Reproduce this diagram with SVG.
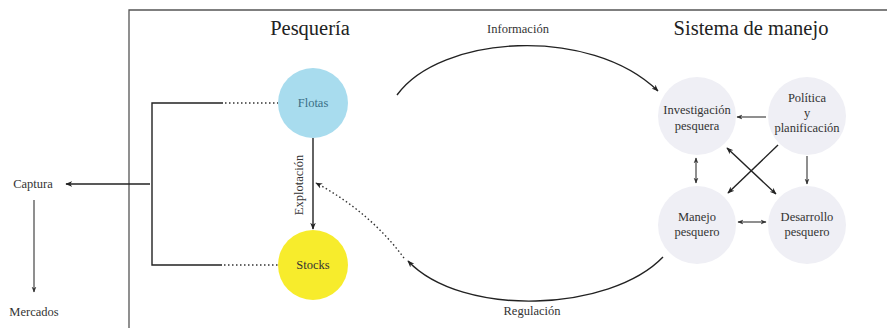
<svg xmlns="http://www.w3.org/2000/svg" width="887" height="328" viewBox="0 0 887 328">
<defs>
<marker id="ah" viewBox="0 0 10 10" refX="9" refY="5" markerWidth="7" markerHeight="7" orient="auto-start-reverse" markerUnits="userSpaceOnUse">
<path d="M0,1 L10,5 L0,9 L3,5 z" fill="#222"/>
</marker>
<marker id="ahs" viewBox="0 0 10 10" refX="9" refY="5" markerWidth="6" markerHeight="6" orient="auto-start-reverse" markerUnits="userSpaceOnUse">
<path d="M0,1 L10,5 L0,9 L3,5 z" fill="#333"/>
</marker>
</defs>
<style>
text{font-family:"Liberation Serif","DejaVu Serif",serif;fill:#333;text-anchor:middle}
.title{font-size:20.5px;fill:#222}
.lbl{font-size:12.5px}
.sm{font-size:12.5px}
.ln{stroke:#222;stroke-width:1.4;fill:none}
.th{stroke:#333;stroke-width:1.1;fill:none}
.dot{stroke:#333;stroke-width:1.4;fill:none;stroke-dasharray:1.5 2.5}
.grey{fill:#efeff5}
</style>
<rect width="887" height="328" fill="#ffffff"/>
<path d="M129,328 V10 H887" fill="none" stroke="#555" stroke-width="1.3"/>
<text class="title" x="310" y="35">Pesquería</text>
<text class="title" x="751" y="35">Sistema de manejo</text>

<g id="flotas"><circle cx="313" cy="103" r="35" fill="#a8dcee"/><text class="sm" x="313" y="107" style="fill:#3a6f86">Flotas</text></g>
<g id="stocks"><circle cx="313" cy="265" r="35" fill="#f7ec2c"/><text class="sm" x="313" y="269">Stocks</text></g>
<g id="captura"><text class="lbl" x="33" y="188">Captura</text></g>
<g id="mercados"><text class="sm" x="34" y="316">Mercados</text></g>
<g id="investigacion"><circle class="grey" cx="697" cy="116" r="39"/><text class="lbl" x="697" y="114">Investigación</text><text class="lbl" x="697" y="130">pesquera</text></g>
<g id="politica"><circle class="grey" cx="807" cy="116" r="39"/><text class="lbl" x="807" y="102">Política</text><text class="lbl" x="807" y="117">y</text><text class="lbl" x="807" y="132">planificación</text></g>
<g id="manejo"><circle class="grey" cx="697" cy="225" r="39"/><text class="lbl" x="697" y="221">Manejo</text><text class="lbl" x="697" y="236">pesquero</text></g>
<g id="desarrollo"><circle class="grey" cx="807" cy="225" r="39"/><text class="lbl" x="807" y="221">Desarrollo</text><text class="lbl" x="807" y="236">pesquero</text></g>

<g id="connectors">
<path class="ln" d="M313,138 V229" marker-end="url(#ah)"/>
<text class="sm" transform="translate(303,185) rotate(-90)">Explotación</text>
<path class="ln" d="M223,103 H152 V265 H222"/>
<path class="dot" d="M225,103 H278 M224,265 H278"/>
<path class="ln" d="M150,184 H66" marker-end="url(#ah)"/>
<path class="th" d="M34,200 V292" marker-end="url(#ahs)"/>
<path class="dot" d="M404,258 Q370,212 316,183" marker-end="url(#ah)"/>
<path class="ln" d="M397,95 C440,35 590,25 658,91" marker-end="url(#ah)"/>
<text class="sm" x="518" y="33">Información</text>
<path class="ln" d="M663,257 C610,312 462,318 408,261" marker-end="url(#ah)"/>
<text class="sm" x="532" y="315">Regulación</text>
<path class="th" d="M766,117 H737" marker-end="url(#ahs)"/>
<path class="th" d="M696,158 V183" marker-start="url(#ahs)" marker-end="url(#ahs)"/>
<path class="th" d="M807,156 V184" marker-end="url(#ahs)"/>
<path class="th" d="M738,222 H766" marker-start="url(#ahs)" marker-end="url(#ahs)"/>
<path class="ln" d="M727,148 L776,194" marker-start="url(#ah)" marker-end="url(#ah)"/>
<path class="ln" d="M778,145 L728,193" marker-end="url(#ah)"/>
</g>
</svg>
